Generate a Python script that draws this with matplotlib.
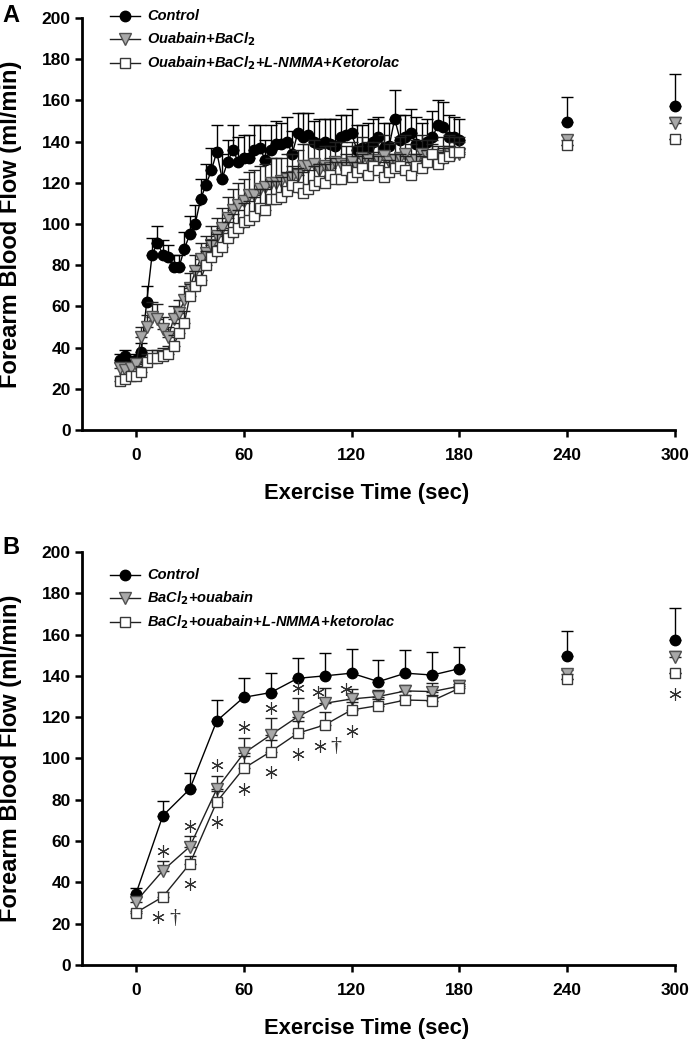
import numpy as np
import matplotlib.pyplot as plt

# ─── CONFIG ───────────────────────────────────────────────
OUTPUT = "out.png"
plt.rcParams["font.family"] = ["Liberation Sans", "DejaVu Sans"]

# panel A: beat-by-beat, sampled every 3 s from -9 to 180 s
time_a = np.arange(-9, 181, 3)
ctrl_a = [34, 36, 33, 34, 38, 62, 85, 91,
          85, 84, 79, 79, 88, 95, 100, 112,
          119, 126, 135, 122, 130, 136, 130, 132,
          132, 136, 137, 131, 136, 139, 139, 140,
          134, 144, 142, 143, 140, 139, 140, 139,
          138, 142, 143, 144, 136, 137, 137, 140,
          142, 137, 138, 151, 141, 142, 144, 139,
          137, 140, 142, 148, 147, 142, 142, 141]
ctrl_a_err = [3, 3, 3, 3, 4, 8, 8, 8,
              7, 6, 6, 6, 8, 9, 9, 10,
              10, 11, 13, 12, 11, 12, 12, 11,
              11, 12, 11, 10, 12, 11, 10, 12,
              11, 10, 12, 11, 10, 12, 11, 12,
              13, 11, 10, 12, 12, 11, 12, 11,
              10, 12, 11, 14, 12, 11, 12, 13,
              12, 11, 13, 12, 12, 11, 10, 10]
tri_a = [30, 29, 30, 32, 45, 50, 55, 54,
         49, 45, 54, 57, 63, 69, 77, 83,
         86, 90, 94, 98, 103, 107, 109, 111,
         114, 114, 117, 118, 120, 120, 121, 122,
         123, 124, 128, 128, 129, 126, 128, 127,
         130, 129, 128, 130, 127, 132, 131, 128,
         131, 133, 130, 131, 132, 134, 130, 131,
         134, 133, 132, 130, 133, 135, 134, 134]
tri_a_err = [3, 3, 3, 3, 5, 6, 7, 7,
             6, 5, 6, 6, 7, 7, 8, 8,
             8, 9, 9, 10, 10, 10, 11, 11,
             11, 12, 11, 11, 12, 12, 11, 12,
             11, 12, 11, 11, 12, 11, 10, 11,
             10, 11, 10, 10, 11, 10, 9, 10,
             9, 10, 9, 9, 10, 9, 9, 10,
             9, 8, 9, 8, 9, 8, 8, 8]
sq_a = [24, 25, 26, 26, 28, 33, 35, 35,
        36, 37, 41, 47, 52, 65, 70, 73,
        80, 84, 87, 89, 93, 96, 98, 101,
        102, 104, 108, 107, 112, 112, 113, 116,
        119, 118, 115, 117, 119, 121, 120, 124,
        122, 122, 126, 123, 125, 127, 124, 128,
        126, 123, 125, 127, 128, 126, 124, 128,
        127, 130, 134, 129, 132, 133, 135, 135]
sq_a_err = [2, 2, 2, 2, 3, 4, 4, 4,
            4, 4, 5, 5, 6, 6, 7, 7,
            7, 8, 8, 8, 8, 9, 9, 9,
            9, 9, 9, 10, 9, 9, 10, 9,
            9, 9, 10, 9, 9, 8, 9, 8,
            8, 8, 8, 7, 8, 7, 8, 7,
            7, 7, 6, 7, 6, 7, 6, 6,
            6, 6, 5, 6, 5, 5, 5, 5]

# panel B: 15-s averages
time_b = [0, 15, 30, 45, 60, 75, 90, 105, 120, 135, 150, 165, 180]
ctrl_b = [34.4, 72.3, 85.2, 118.2, 129.6, 131.9, 138.8, 140, 141.3, 137.2, 141.3, 140.4, 143.5]
ctrl_b_err = [3, 7, 8, 10, 9.5, 9.5, 10, 11, 11.5, 10.5, 11, 11, 10.5]
tri_b = [30.7, 45.7, 57.3, 85.2, 102.5, 111.4, 120.2, 126.7, 128.8, 130, 132.7, 132.4, 135]
tri_b_err = [2, 4.7, 5, 6.5, 7.5, 8, 9, 7.5, 5, 3, 3, 4, 3]
sq_b = [25.3, 33, 49, 79, 95.2, 103.3, 112.2, 116.2, 123.5, 125.6, 128.3, 128, 134]
sq_b_err = [1, 2.5, 4, 5, 6, 5.5, 6, 6.5, 4, 3, 2.5, 2.5, 2]

# late time points (same in both panels)
time_late = [240, 300]
ctrl_late = [149.5, 157.5]
ctrl_late_err = [12, 15.5]
tri_late = [141, 149]
tri_late_err = [2, 3]
sq_late = [138.5, 141.3]
sq_late_err = [0, 0]

# significance marks in panel B
star_tri_times = [15, 30, 45, 60, 75, 90, 105, 120]
star_sq_times = [15, 30, 45, 60, 75, 90, 105, 120]
dagger_sq_times = [15, 105]
star_late_sq = [300]

labels_a = ["Control", r"Ouabain+BaCl$_\mathbf{2}$",
            r"Ouabain+BaCl$_\mathbf{2}$+L-NMMA+Ketorolac"]
labels_b = ["Control", r"BaCl$_\mathbf{2}$+ouabain",
            r"BaCl$_\mathbf{2}$+ouabain+L-NMMA+ketorolac"]

STYLES = [
    dict(marker="o", ms=7.5, mfc="black", mec="black", mew=1.0, color="black"),
    dict(marker="v", ms=8.0, mfc="#a8a8a8", mec="#505050", mew=1.0, color="#202020"),
    dict(marker="s", ms=7.0, mfc="white", mec="#383838", mew=1.0, color="#202020"),
]
# ─────────────────────────────────────────────────────────────


def draw_group(ax, t, y, err, style, z, connect=True):
    err = np.asarray(err, dtype=float)
    ax.errorbar(t, y, yerr=[np.zeros_like(err), err], fmt="none",
                ecolor=style["color"], elinewidth=1.0, capsize=4.5, capthick=1.0,
                zorder=z, clip_on=False)
    ax.plot(t, y, linestyle="-" if connect else "none", lw=1.0,
            color=style["color"], marker=style["marker"], ms=style["ms"],
            mfc=style["mfc"], mec=style["mec"], mew=style["mew"],
            zorder=z + 0.5, clip_on=False)


def style_axes(ax):
    ax.set_xlim(-30, 300)
    ax.set_ylim(0, 200)
    ax.set_xticks(np.arange(0, 301, 60))
    ax.set_yticks(np.arange(0, 201, 20))
    for s in ["top", "right"]:
        ax.spines[s].set_visible(False)
    for s in ["left", "bottom"]:
        ax.spines[s].set_linewidth(2.0)
    ax.tick_params(direction="out", length=5, width=1.8, labelsize=12.5)
    ax.tick_params(axis="x", pad=8)
    ax.tick_params(axis="y", pad=3)
    for lab in ax.get_xticklabels() + ax.get_yticklabels():
        lab.set_fontweight("bold")
    ax.set_ylabel("Forearm Blood Flow (ml/min)", fontsize=17, fontweight="bold")
    ax.set_xlabel("Exercise Time (sec)", fontsize=15.8, fontweight="bold")
    ax.yaxis.set_label_coords(-0.101, 0.5)
    ax.xaxis.set_label_coords(0.48, -0.128)


def draw_legend(ax, labels, rows_y):
    for lab, st, yy in zip(labels, STYLES, rows_y):
        ax.plot([0.047, 0.098], [yy, yy], transform=ax.transAxes, color=st["color"],
                lw=1.0, clip_on=False, zorder=5)
        ax.plot([0.0725], [yy], transform=ax.transAxes, linestyle="none",
                marker=st["marker"], ms=st["ms"], mfc=st["mfc"], mec=st["mec"],
                mew=st["mew"], clip_on=False, zorder=6)
        ax.text(0.11, yy, lab, transform=ax.transAxes, fontsize=10.5,
                fontweight="bold", style="italic", va="center", ha="left")


def main():
    fig = plt.figure(figsize=(6.93, 10.45), dpi=100)
    ax_a = fig.add_axes([0.1183, 0.5885, 0.8557, 0.3943])
    ax_b = fig.add_axes([0.1183, 0.0766, 0.8557, 0.3952])

    # panel A
    groups_a = [(ctrl_a, ctrl_a_err, ctrl_late, ctrl_late_err),
                (tri_a, tri_a_err, tri_late, tri_late_err),
                (sq_a, sq_a_err, sq_late, sq_late_err)]
    for i in [2, 1, 0]:
        y, e, yl, el = groups_a[i]
        draw_group(ax_a, time_a, y, e, STYLES[i], z=3 + i)
        draw_group(ax_a, time_late, yl, el, STYLES[i], z=3 + i, connect=False)
    style_axes(ax_a)
    draw_legend(ax_a, labels_a, [1.005, 0.948, 0.891])

    # panel B
    groups_b = [(ctrl_b, ctrl_b_err, ctrl_late, ctrl_late_err),
                (tri_b, tri_b_err, tri_late, tri_late_err),
                (sq_b, sq_b_err, sq_late, sq_late_err)]
    for i in [2, 1, 0]:
        y, e, yl, el = groups_b[i]
        draw_group(ax_b, time_b, y, e, STYLES[i], z=3 + i)
        draw_group(ax_b, time_late, yl, el, STYLES[i], z=3 + i, connect=False)
    style_axes(ax_b)
    draw_legend(ax_b, labels_b, [0.944, 0.889, 0.831])

    # asterisks / daggers
    star_kw = dict(linestyle="none", marker=(6, 2, 0), ms=9, mew=0.8,
                   color="#303030", zorder=8, clip_on=False)
    tri_lookup = dict(zip(time_b, zip(tri_b, tri_b_err)))
    sq_lookup = dict(zip(time_b, sq_b))
    up_shift = {105: (-3.5, -7), 120: (-3, -5)}
    for t in star_tri_times:
        v, e = tri_lookup[t]
        dx, dy = up_shift.get(t, (0, 0))
        ax_b.plot([t + dx], [v + e + 5 + dy], **star_kw)
    for t in star_sq_times:
        dx = -2.5 if t in dagger_sq_times else 0
        ax_b.plot([t + dx], [sq_lookup[t] - 10], **star_kw)
    for t in dagger_sq_times:
        ax_b.text(t + 6.5, sq_lookup[t] - 10.5, "\u2020", fontsize=16,
                  family="Liberation Serif", ha="center", va="center", color="#303030")
    for t in star_late_sq:
        ax_b.plot([t], [sq_late[time_late.index(t)] - 10], **star_kw)

    fig.text(0.004, 0.985, "A", fontsize=17, fontweight="bold", va="center")
    fig.text(0.004, 0.4756, "B", fontsize=17, fontweight="bold", va="center")

    fig.savefig(OUTPUT, dpi=100)


if __name__ == "__main__":
    main()
